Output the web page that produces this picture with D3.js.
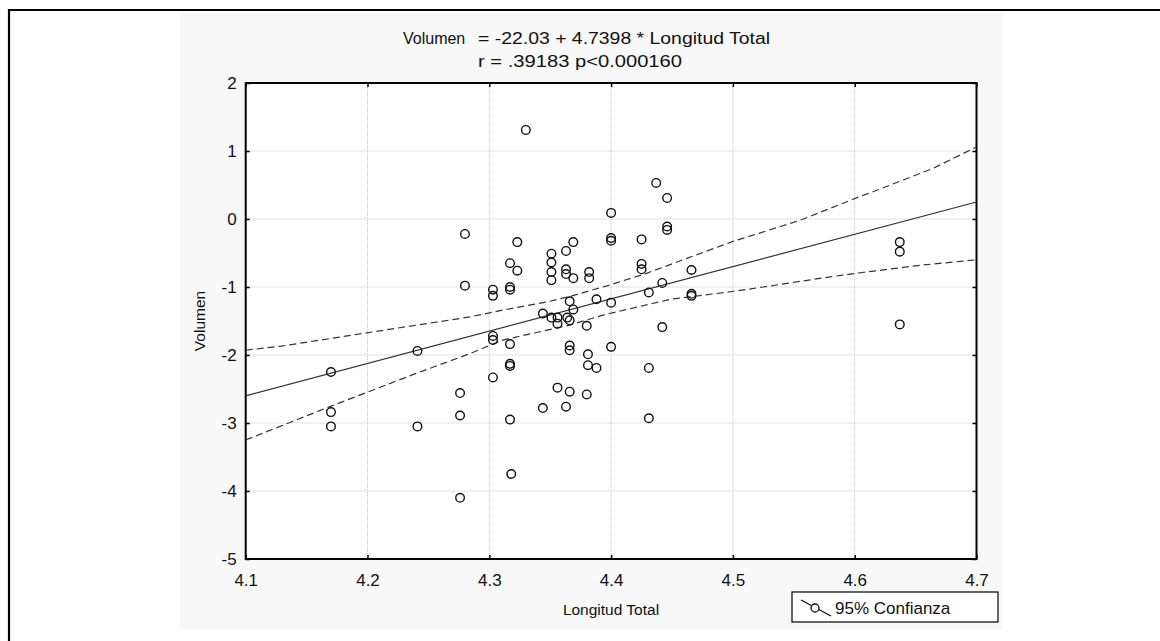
<!DOCTYPE html>
<html>
<head>
<meta charset="utf-8">
<script src="https://cdn.jsdelivr.net/npm/d3@7"></script>
<style>
  html, body { margin: 0; padding: 0; background: #fff; }
  svg { display: block; font-family: "Liberation Sans", Arial, sans-serif; }
</style>
</head>
<body>
<div id="chart"></div>
<script>
// datos
const longitud = [4.330, 4.437, 4.446, 4.400, 4.446, 4.446, 4.400, 4.400, 4.425, 4.323,
  4.369, 4.363, 4.351, 4.280, 4.637, 4.637, 4.637, 4.317, 4.323, 4.351,
  4.351, 4.351, 4.363, 4.363, 4.369, 4.382, 4.382, 4.425, 4.425, 4.466,
  4.303, 4.303, 4.317, 4.317, 4.366, 4.388, 4.400, 4.431, 4.442, 4.466,
  4.466, 4.369, 4.344, 4.351, 4.356, 4.356, 4.364, 4.366, 4.380, 4.442,
  4.303, 4.303, 4.317, 4.366, 4.366, 4.400, 4.381, 4.317, 4.317, 4.381,
  4.388, 4.431, 4.303, 4.356, 4.366, 4.380, 4.344, 4.363, 4.317, 4.431,
  4.280, 4.170, 4.241, 4.170, 4.170, 4.241, 4.276, 4.276, 4.276, 4.318]
const volumen = [1.31, 0.53, 0.31, 0.09, -0.11, -0.16, -0.28, -0.32, -0.30, -0.34,
  -0.34, -0.47, -0.51, -0.22, -0.34, -0.48, -1.55, -0.65, -0.76, -0.64,
  -0.78, -0.90, -0.74, -0.81, -0.87, -0.78, -0.87, -0.66, -0.74, -0.75,
  -1.04, -1.13, -1.00, -1.04, -1.21, -1.18, -1.23, -1.08, -0.94, -1.10,
  -1.13, -1.33, -1.39, -1.45, -1.45, -1.54, -1.45, -1.49, -1.57, -1.59,
  -1.72, -1.78, -1.84, -1.86, -1.93, -1.88, -1.99, -2.13, -2.16, -2.15,
  -2.19, -2.19, -2.33, -2.48, -2.54, -2.58, -2.78, -2.76, -2.95, -2.93,
  -0.98, -2.25, -1.94, -2.84, -3.05, -3.05, -2.56, -2.89, -4.10, -3.75]

// recta de regresion
const ajusteX = [4.1, 4.7]
const ajusteY = [-2.60, 0.25]

// bandas de confianza 95%
const superiorX = [4.1, 4.129, 4.284, 4.311, 4.347, 4.366, 4.399, 4.429, 4.459, 4.500, 4.555, 4.607, 4.615, 4.665, 4.7]
const superiorY = [-1.93, -1.87, -1.44, -1.34, -1.22, -1.14, -0.97, -0.80, -0.60, -0.33, -0.02, 0.35, 0.40, 0.75, 1.06]
const inferiorX = [4.1, 4.169, 4.240, 4.284, 4.311, 4.366, 4.394, 4.449, 4.498, 4.525, 4.580, 4.605, 4.654, 4.7]
const inferiorY = [-3.25, -2.76, -2.27, -1.98, -1.78, -1.56, -1.41, -1.18, -1.07, -1.00, -0.85, -0.79, -0.68, -0.60]

const xTicks = [4.1, 4.2, 4.3, 4.4, 4.5, 4.6, 4.7]
const yTicks = [2, 1, 0, -1, -2, -3, -4, -5]

const width = 1160
const height = 641
const mLeft = 245.7, mRight = 976.5, mTop = 83, mBottom = 559

const svg = d3.select('#chart')
  .append('svg')
  .attr('width', width)
  .attr('height', height)

// fondo gris del area del grafico
svg.append('rect')
  .attr('x', 180).attr('y', 13)
  .attr('width', 822).attr('height', 617)
  .attr('fill', '#f8f8f8')

// marco exterior
svg.append('path')
  .attr('d', `M9,${height} V10 H${width}`)
  .attr('fill', 'none')
  .attr('stroke', '#000')
  .attr('stroke-width', 2.2)

const x = d3.scaleLinear().domain([4.1, 4.7]).range([mLeft, mRight])
const y = d3.scaleLinear().domain([-5, 2]).range([mBottom, mTop])

// area de trazado
svg.append('rect')
  .attr('x', mLeft).attr('y', mTop)
  .attr('width', mRight - mLeft).attr('height', mBottom - mTop)
  .attr('fill', '#fff')

// rejilla punteada
const grid = svg.append('g')
  .attr('stroke', '#c4c4c4')
  .attr('stroke-width', 1)
  .attr('stroke-dasharray', '1,1')
grid.selectAll('line.gx')
  .data(xTicks.slice(1, -1))
  .join('line')
  .attr('class', 'gx')
  .attr('x1', d => x(d)).attr('x2', d => x(d))
  .attr('y1', mTop).attr('y2', mBottom)
grid.selectAll('line.gy')
  .data(yTicks.slice(1, -1))
  .join('line')
  .attr('class', 'gy')
  .attr('x1', mLeft).attr('x2', mRight)
  .attr('y1', d => y(d)).attr('y2', d => y(d))

// ejes con marcas hacia dentro
const fmtX = d3.format('.1f')
const axisStyle = g => {
  g.select('.domain').remove()
  g.selectAll('.tick line').attr('stroke', '#000').attr('stroke-width', 1.5)
  g.selectAll('.tick text')
    .attr('fill', '#111')
    .attr('font-size', '17px')
    .attr('font-family', '"Liberation Sans", Arial, sans-serif')
}

svg.append('g')
  .attr('transform', `translate(0,${mBottom})`)
  .call(d3.axisBottom(x).tickValues(xTicks).tickFormat(fmtX).tickSize(-4).tickPadding(15))
  .call(axisStyle)
svg.append('g')
  .attr('transform', `translate(0,${mTop})`)
  .call(d3.axisTop(x).tickValues(xTicks).tickFormat('').tickSize(-4))
  .call(axisStyle)
svg.append('g')
  .attr('transform', `translate(${mLeft},0)`)
  .call(d3.axisLeft(y).tickValues(yTicks).tickFormat(d => String(d)).tickSize(-4).tickPadding(9))
  .call(axisStyle)
svg.append('g')
  .attr('transform', `translate(${mRight},0)`)
  .call(d3.axisRight(y).tickValues(yTicks).tickFormat('').tickSize(-4))
  .call(axisStyle)

// marco del area de trazado
svg.append('rect')
  .attr('x', mLeft).attr('y', mTop)
  .attr('width', mRight - mLeft).attr('height', mBottom - mTop)
  .attr('fill', 'none')
  .attr('stroke', '#000')
  .attr('stroke-width', 2)

// lineas
const linea = d3.line().x(d => x(d[0])).y(d => y(d[1]))
const plot = svg.append('g')

plot.append('path')
  .datum(d3.zip(ajusteX, ajusteY))
  .attr('d', linea)
  .attr('fill', 'none')
  .attr('stroke', '#333')
  .attr('stroke-width', 1.2)

;[d3.zip(superiorX, superiorY), d3.zip(inferiorX, inferiorY)].forEach(banda => {
  plot.append('path')
    .datum(banda)
    .attr('d', linea)
    .attr('fill', 'none')
    .attr('stroke', '#333')
    .attr('stroke-width', 1.2)
    .attr('stroke-dasharray', '7,4')
})

// puntos
plot.append('g')
  .selectAll('circle')
  .data(d3.zip(longitud, volumen))
  .join('circle')
  .attr('cx', d => x(d[0]))
  .attr('cy', d => y(d[1]))
  .attr('r', 4.3)
  .attr('fill', 'none')
  .attr('stroke', '#111')
  .attr('stroke-width', 1.4)

// titulo
const texto = (tx, ty, s, size, anchor) => svg.append('text')
  .attr('x', tx).attr('y', ty)
  .attr('text-anchor', anchor || 'start')
  .attr('font-size', size + 'px')
  .attr('fill', '#111')
  .text(s)

texto(403, 44, 'Volumen', 16)
texto(478, 44, '= -22.03 + 4.7398 * Longitud Total', 16)
  .attr('textLength', 292).attr('lengthAdjust', 'spacingAndGlyphs')
texto(478, 67, 'r = .39183 p<0.000160', 16)
  .attr('textLength', 204).attr('lengthAdjust', 'spacingAndGlyphs')

// titulos de ejes
texto(611, 615, 'Longitud Total', 15.5, 'middle')
svg.append('text')
  .attr('transform', `translate(205,${(mTop + mBottom) / 2}) rotate(-90)`)
  .attr('text-anchor', 'middle')
  .attr('font-size', '15.5px')
  .attr('fill', '#111')
  .text('Volumen')

// leyenda
const leyenda = svg.append('g').attr('transform', 'translate(792,592)')
leyenda.append('rect')
  .attr('width', 206).attr('height', 30)
  .attr('fill', '#fff')
  .attr('stroke', '#000')
  .attr('stroke-width', 1.2)
leyenda.append('line')
  .attr('x1', 9).attr('y1', 8).attr('x2', 39).attr('y2', 24)
  .attr('stroke', '#111').attr('stroke-width', 1.2)
leyenda.append('circle')
  .attr('cx', 23).attr('cy', 16).attr('r', 4)
  .attr('fill', '#fff').attr('stroke', '#111').attr('stroke-width', 1.3)
leyenda.append('text')
  .attr('x', 43).attr('y', 22)
  .attr('font-size', '17px')
  .attr('fill', '#111')
  .text('95% Confianza')
</script>
</body>
</html>
